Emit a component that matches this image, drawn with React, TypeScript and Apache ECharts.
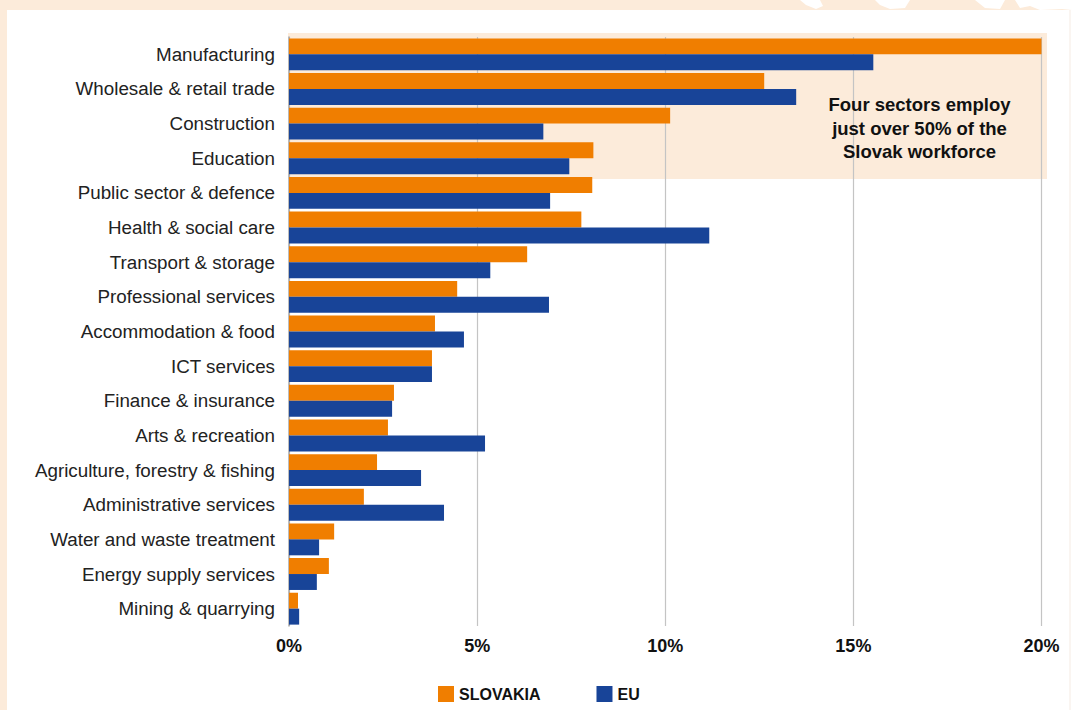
import React, { useEffect, useRef } from "react";
import * as echarts from "echarts";

const categories = [
  "Manufacturing",
  "Wholesale & retail trade",
  "Construction",
  "Education",
  "Public sector & defence",
  "Health & social care",
  "Transport & storage",
  "Professional services",
  "Accommodation & food",
  "ICT services",
  "Finance & insurance",
  "Arts & recreation",
  "Agriculture, forestry & fishing",
  "Administrative services",
  "Water and waste treatment",
  "Energy supply services",
  "Mining & quarrying",
];

const slovakia = [20.0, 12.63, 10.13, 8.09, 8.06, 7.77, 6.33, 4.47, 3.88, 3.8, 2.79, 2.63, 2.34, 1.99, 1.2, 1.06, 0.24];
const eu = [15.53, 13.48, 6.76, 7.45, 6.94, 11.17, 5.35, 6.91, 4.65, 3.8, 2.74, 5.21, 3.51, 4.12, 0.8, 0.74, 0.27];

const xTicks = [0, 5, 10, 15, 20];
const annotationLines = ["Four sectors employ", "just over 50% of the", "Slovak workforce"];

const ORANGE = "#F07E00";
const BLUE = "#184498";
const PEACH = "#FCEBDA";
const FONT = "Liberation Sans, Arial, Helvetica, sans-serif";

export default function App() {
  const ref = useRef<HTMLDivElement>(null);

  useEffect(() => {
    document.body.style.margin = "0";
    const chart = echarts.init(ref.current!, undefined, { renderer: "svg" });
    chart.setOption({
      animation: false,
      backgroundColor: "#ffffff",
      textStyle: { fontFamily: FONT },
      grid: { left: 289, right: 30.5, top: 37, bottom: 84, containLabel: false },
      xAxis: {
        type: "value",
        min: 0,
        max: 20,
        interval: 5,
        axisLine: { show: false },
        axisTick: { show: false },
        axisLabel: {
          formatter: (v: number) => (xTicks.includes(v) ? v + "%" : ""),
          fontSize: 18,
          fontWeight: "bold",
          color: "#111",
          margin: 11,
          fontFamily: FONT,
        },
        splitLine: { show: true, lineStyle: { color: "#c4c4c4", width: 1.2 } },
      },
      yAxis: {
        type: "category",
        data: categories,
        inverse: true,
        axisLine: { show: true, lineStyle: { color: "#a8a8a8", width: 1.5 } },
        axisTick: { show: false },
        axisLabel: { fontSize: 18.8, color: "#222", margin: 14, fontFamily: FONT, padding: [0, 0, 3, 0] },
      },
      legend: {
        left: 438,
        top: 686,
        padding: 0,
        itemWidth: 16,
        itemHeight: 16,
        itemGap: 56,
        icon: "rect",
        textStyle: { fontSize: 16, fontWeight: "bold", color: "#111", fontFamily: FONT },
        data: ["SLOVAKIA", "EU"],
      },
      series: [
        {
          name: "SLOVAKIA",
          type: "bar",
          data: slovakia,
          itemStyle: { color: ORANGE },
          barGap: "0%",
          barCategoryGap: "8%",
          z: 3,
        },
        {
          name: "EU",
          type: "bar",
          data: eu,
          itemStyle: { color: BLUE },
          barGap: "0%",
          barCategoryGap: "8%",
          z: 3,
        },
      ],
      graphic: [
        { type: "rect", z: -100, shape: { x: 0, y: 0, width: 1072, height: 10 }, style: { fill: PEACH }, silent: true },
        { type: "rect", z: -100, shape: { x: 0, y: 0, width: 7, height: 710 }, style: { fill: PEACH }, silent: true },
        { type: "rect", z: -100, shape: { x: 1069.5, y: 10, width: 1, height: 700 }, style: { fill: "#f6ece4" }, silent: true },
        { type: "rect", z: -100, shape: { x: 288, y: 33, width: 759, height: 146 }, style: { fill: PEACH }, silent: true },
        {
          type: "polygon",
          z: -99,
          shape: { points: [[800, 0], [820, 0], [823, 6], [816, 9], [806, 5]] },
          style: { fill: "#ffffff" },
          silent: true,
        },
        {
          type: "polygon",
          z: -99,
          shape: { points: [[875, 0], [910, 0], [905, 8], [890, 9], [880, 5]] },
          style: { fill: "#ffffff" },
          silent: true,
        },
        {
          type: "polygon",
          z: -99,
          shape: { points: [[975, 0], [1005, 0], [1000, 9], [985, 8]] },
          style: { fill: "#ffffff" },
          silent: true,
        },
        {
          type: "polygon",
          z: -99,
          shape: { points: [[1015, 0], [1072, 0], [1072, 10], [1062, 9], [1040, 10], [1030, 6], [1020, 8]] },
          style: { fill: "#ffffff" },
          silent: true,
        },
        ...annotationLines.map((t, i) => ({
          type: "text",
          z: 10,
          x: 919.5,
          y: 104.5 + i * 23.5,
          style: {
            text: t,
            fill: "#111",
            font: "bold 18.5px " + FONT,
            textAlign: "center",
            textVerticalAlign: "middle",
          },
          silent: true,
        })),
      ],
    });
    return () => chart.dispose();
  }, []);

  return <div ref={ref} style={{ width: 1072, height: 710 }} />;
}
